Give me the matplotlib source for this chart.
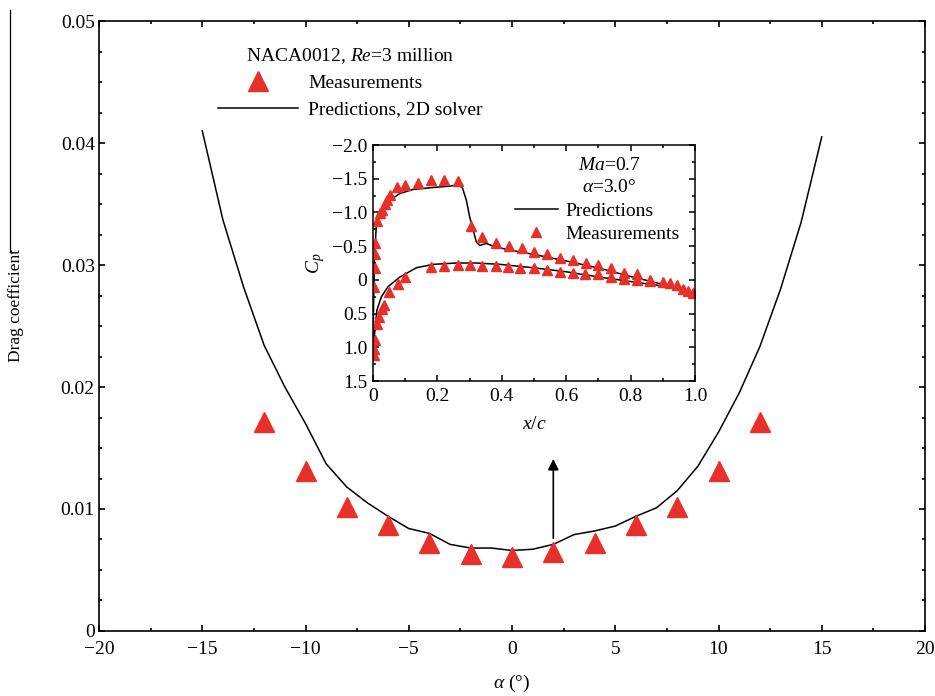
import matplotlib
matplotlib.use('Agg')
import matplotlib.pyplot as plt
from matplotlib.lines import Line2D
from matplotlib.ticker import MultipleLocator, FuncFormatter

plt.rcParams['font.family'] = ['Liberation Serif', 'DejaVu Serif']
plt.rcParams['mathtext.fontset'] = 'custom'
plt.rcParams['mathtext.rm'] = 'Liberation Serif'
plt.rcParams['mathtext.it'] = 'Liberation Serif:italic'
plt.rcParams['font.size'] = 14

RED = '#e8302a'

# drag polar, NACA0012 at Re = 3 million
alpha_meas = [-12, -10, -8, -6, -4, -2, 0, 2, 4, 6, 8, 10, 12]
cd_meas = [0.0171, 0.0131, 0.0102, 0.0087, 0.0072, 0.0063, 0.0061,
           0.0065, 0.0072, 0.0087, 0.0102, 0.0131, 0.0171]

alpha_pred = list(range(-15, 16))
cd_pred = [0.0410, 0.0337, 0.0282, 0.0234, 0.0200, 0.0170, 0.0137, 0.0118,
           0.0105, 0.0094, 0.0084, 0.0080, 0.0071, 0.0068, 0.0068, 0.0066,
           0.0067, 0.0071, 0.0079, 0.0082, 0.0086, 0.0094, 0.0101, 0.0115,
           0.0135, 0.0163, 0.0195, 0.0233, 0.0280, 0.0335, 0.0405]

# surface pressure at Ma = 0.7, alpha = 3 deg
xu_meas = [0.004, 0.006, 0.005, 0.007, 0.013, 0.021, 0.029, 0.036, 0.044,
           0.052, 0.075, 0.10, 0.14, 0.18, 0.22, 0.264, 0.304, 0.34, 0.383,
           0.423, 0.463, 0.50, 0.54, 0.58, 0.622, 0.661, 0.70, 0.739, 0.779,
           0.821, 0.86, 0.90, 0.922, 0.943, 0.964, 0.979, 0.995]
cpu_meas = [0.10, -0.18, -0.38, -0.54, -0.88, -0.99, -1.04, -1.12, -1.18,
            -1.26, -1.37, -1.41, -1.43, -1.48, -1.48, -1.47, -0.80, -0.64,
            -0.54, -0.50, -0.47, -0.42, -0.38, -0.33, -0.30, -0.25, -0.22,
            -0.17, -0.10, -0.08, 0.0, 0.03, 0.05, 0.08, 0.13, 0.16, 0.20]

xl_meas = [0.002, 0.004, 0.006, 0.012, 0.020, 0.028, 0.035, 0.050, 0.078,
           0.10, 0.18, 0.22, 0.264, 0.30, 0.34, 0.383, 0.42, 0.456, 0.50,
           0.54, 0.58, 0.62, 0.658, 0.70, 0.74, 0.78, 0.82, 0.86]
cpl_meas = [1.11, 1.03, 0.89, 0.66, 0.55, 0.43, 0.38, 0.18, 0.06, -0.04,
            -0.19, -0.20, -0.22, -0.22, -0.20, -0.20, -0.19, -0.18, -0.18,
            -0.15, -0.12, -0.10, -0.09, -0.08, -0.04, -0.02, 0.0, 0.01]

xu_pred = [0, 0.002, 0.005, 0.010, 0.020, 0.035, 0.052, 0.083, 0.124, 0.187,
           0.238, 0.267, 0.278, 0.29, 0.30, 0.311, 0.321, 0.332, 0.352,
           0.368, 0.415, 0.497, 0.60, 0.705, 0.808, 0.912, 1.0]
cpu_pred = [1.05, 0.3, -0.35, -0.78, -1.0, -1.12, -1.18, -1.28, -1.34, -1.37,
            -1.39, -1.41, -1.36, -1.18, -0.94, -0.74, -0.56, -0.51, -0.54,
            -0.51, -0.45, -0.38, -0.28, -0.17, -0.04, 0.08, 0.23]

xl_pred = [0, 0.002, 0.005, 0.012, 0.026, 0.047, 0.083, 0.135, 0.187, 0.26,
           0.32, 0.394, 0.497, 0.60, 0.705, 0.808, 0.912, 1.0]
cpl_pred = [1.05, 0.95, 0.8, 0.45, 0.25, 0.10, -0.04, -0.18, -0.23, -0.25,
            -0.25, -0.23, -0.18, -0.12, -0.04, 0.03, 0.10, 0.23]


def style_axes(ax, lw):
    for s in ax.spines.values():
        s.set_linewidth(lw)
    ax.tick_params(which='both', direction='in', top=True, right=True,
                   width=lw)
    ax.tick_params(which='major', length=4)
    ax.tick_params(which='minor', length=2.5)


def minus(s):
    return s.replace('-', '\u2212')


def num_fmt(v, pos):
    if abs(v) < 1e-9:
        return '0'
    return minus('%g' % v)


def one_dec(v, pos):
    if abs(v) < 1e-9:
        return '0'
    return minus('%.1f' % v)


fig = plt.figure(figsize=(9.35, 6.96), dpi=100)
ax = fig.add_axes([0.1059, 0.0934, 0.8834, 0.8764])

ax.plot(alpha_pred, cd_pred, color='black', lw=1.1,
        label='Predictions, 2D solver')
ax.plot(alpha_meas, cd_meas, ls='none', marker='^', ms=14, color=RED,
        mec=RED, label='Measurements')
ax.annotate('', xy=(2, 0.0141), xytext=(2, 0.0076),
            arrowprops=dict(arrowstyle='-|>', color='black', lw=1.2,
                            mutation_scale=16, shrinkA=0, shrinkB=0))

ax.set_xlim(-20, 20)
ax.set_ylim(0, 0.05)
ax.xaxis.set_major_locator(MultipleLocator(5))
ax.xaxis.set_minor_locator(MultipleLocator(2.5))
ax.yaxis.set_major_locator(MultipleLocator(0.01))
ax.yaxis.set_minor_locator(MultipleLocator(0.0025))
ax.xaxis.set_major_formatter(FuncFormatter(num_fmt))
ax.yaxis.set_major_formatter(FuncFormatter(num_fmt))
style_axes(ax, 1.2)
ax.tick_params(axis='x', pad=7)
ax.tick_params(axis='y', pad=3)
ax.set_xlabel(r'$\alpha$ (°)', labelpad=11)

fig.text(16 / 935, 1 - 305 / 696, 'Drag coefficient', rotation=90,
         ha='center', va='center', fontsize=12.5)
fig.add_artist(Line2D([9.5 / 935, 9.5 / 935], [1 - 10 / 696, 1 - 252 / 696],
                      color='black', lw=0.9))

handles, labels = ax.get_legend_handles_labels()
ax.legend(handles[::-1], labels[::-1], loc='upper left',
          bbox_to_anchor=(218 / 935, 1 - 46 / 696),
          bbox_transform=fig.transFigure, frameon=False, borderpad=0,
          title=r'NACA0012, $\mathit{Re}$=3 million', handlelength=4.1,
          handletextpad=0.55, labelspacing=0.45, borderaxespad=0,
          title_fontsize=14, fontsize=14)

# inset: pressure distribution
axi = fig.add_axes([373 / 935, 1 - 381 / 696, 322 / 935, 236 / 696])
axi.plot(xu_pred, cpu_pred, color='black', lw=1.1, label='Predictions')
axi.plot(xl_pred, cpl_pred, color='black', lw=1.1)
axi.plot(xu_meas, cpu_meas, ls='none', marker='^', ms=7.5, color=RED,
         mec=RED, label='Measurements')
axi.plot(xl_meas, cpl_meas, ls='none', marker='^', ms=7.5, color=RED,
         mec=RED)
axi.set_xlim(0, 1.0)
axi.set_ylim(1.5, -2.0)
axi.xaxis.set_major_locator(MultipleLocator(0.2))
axi.xaxis.set_minor_locator(MultipleLocator(0.1))
axi.yaxis.set_major_locator(MultipleLocator(0.5))
axi.yaxis.set_minor_locator(MultipleLocator(0.25))
axi.xaxis.set_major_formatter(FuncFormatter(one_dec))
axi.yaxis.set_major_formatter(FuncFormatter(one_dec))
style_axes(axi, 1.1)
axi.tick_params(axis='x', pad=5)
axi.tick_params(axis='y', pad=4)
axi.set_xlabel(r'$x$/$c$', labelpad=8)
axi.set_ylabel(r'$C_p$', labelpad=4)

axi.text(0.735, 0.915, r'$\mathit{Ma}$=0.7', transform=axi.transAxes,
         ha='center', va='center')
axi.text(0.735, 0.82, r'$\alpha$=3.0°', transform=axi.transAxes,
         ha='center', va='center')
axi.legend(loc='upper left', bbox_to_anchor=(515 / 935, 1 - 202 / 696),
           bbox_transform=fig.transFigure, frameon=False, borderpad=0,
           handlelength=2.2, handletextpad=0.4, labelspacing=0.3,
           borderaxespad=0, fontsize=14)

fig.savefig('out.png', dpi=100)
